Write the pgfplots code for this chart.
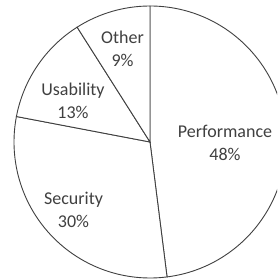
\documentclass[border=0pt]{standalone}
\usepackage{pgfplots}
\pgfplotsset{compat=1.18}
\usepackage{fontspec}
\setmainfont{Carlito}
\definecolor{linecol}{RGB}{64,64,64}
\definecolor{txtcol}{RGB}{64,64,64}
\begin{document}
\begin{tikzpicture}
\clip (0,0) rectangle (277pt,280pt);
\begin{axis}[hide axis, scale only axis, width=277pt, height=280pt,
  xmin=0, xmax=277, ymin=0, ymax=280, clip=false, anchor=south west, at={(0,0)}]
\pgfplotsextra{
  \xdef\cum{90}
  \foreach \v/\lab/\lx/\ly in {48/Performance/225/137, 30/Security/73.5/70, 13/Usability/73/179.5, 9/Other/122.5/231} {
    \pgfmathparse{\cum-3.6*\v}\xdef\newcum{\pgfmathresult}
    \draw[linecol, line width=0.9pt, fill=white] (axis cs:150,138) -- ++({\cum}:136pt)
      arc[start angle=\cum, end angle=\newcum, radius=136pt] -- cycle;
    \node[align=center, text=txtcol, font=\fontsize{18}{23}\selectfont] at (axis cs:\lx,\ly) {\lab\\\v\%};
    \xdef\cum{\newcum}
  }
}
\end{axis}
\end{tikzpicture}
\end{document}
